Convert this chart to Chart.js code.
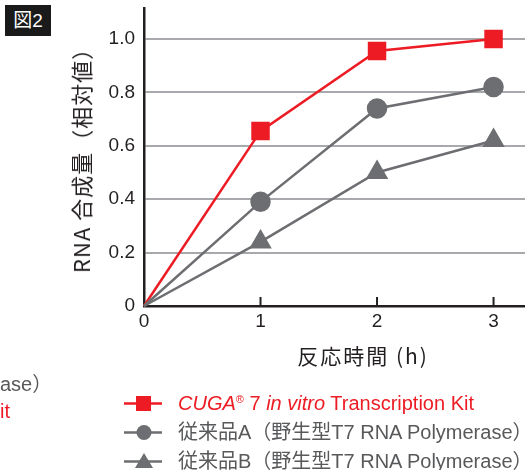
<!DOCTYPE html>
<html><head><meta charset="utf-8">
<script src="https://cdn.jsdelivr.net/npm/chart.js@4"></script>
<style>
html,body{margin:0;padding:0;background:#fff;overflow:hidden}
#wrap{position:relative;width:525px;height:470px;font-family:"Liberation Sans","Noto Sans CJK JP",sans-serif}
canvas{position:absolute;left:0;top:0}
.abs{position:absolute;white-space:nowrap}
#badge{left:5px;top:5px;width:46px;height:31px;background:#1a1a1a;color:#fff;font-size:19px;line-height:31px;text-align:center}
#ytitle{left:80px;top:155px;transform:translate(-50%,-50%) rotate(-90deg);font-size:22px;letter-spacing:1px;color:#231F20;font-family:"Noto Sans CJK JP","Liberation Sans",sans-serif}
#xtitle{left:363px;top:355px;transform:translate(-50%,-50%);font-size:21px;letter-spacing:2px;color:#231F20;font-family:"Noto Sans CJK JP","Liberation Sans",sans-serif}
.leg{left:124px;font-size:20px;height:24px;line-height:24px;transform:translateY(-50%)}
.leg svg{position:absolute;left:0;top:3px}
.leg span{position:absolute;left:54px;top:0}
.leg sup{font-size:11px;line-height:0;vertical-align:7px}
</style></head>
<body><div id="wrap">
<canvas id="c" width="525" height="470"></canvas>
<div id="badge" class="abs">図2</div>
<div id="ytitle" class="abs">RNA 合成量（相対値）</div>
<div id="xtitle" class="abs">反応時間 (h)</div>
<div class="abs" style="left:0;top:368px;font-size:20px;color:#58595B">ase）</div>
<div class="abs" style="left:0;top:400px;font-size:20px;color:#ED1C24">it</div>
<div id="legend"></div>
</div>
<script>
const hours = [0, 1, 2, 3];
const cugaValues = [0, 0.655, 0.955, 1.0];
const productAValues = [0, 0.39, 0.74, 0.82];
const productBValues = [0, 0.24, 0.50, 0.62];
const yTickValues = [0, 0.2, 0.4, 0.6, 0.8, 1.0];
const xTickValues = [0, 1, 2, 3];
const seriesLabels = [
  'CUGA® 7 in vitro Transcription Kit',
  '従来品A（野生型T7 RNA Polymerase）',
  '従来品B（野生型T7 RNA Polymerase）'
];

const RED = '#ED1C24', GRAY = '#6D6E71', AXIS = '#231F20', GRID = '#A7A9AC';

function pts(vals){ return hours.map((h,i)=>({x:h,y:vals[i]})); }
// no marker drawn at the origin point
function rad(r){ return c => (c.dataIndex === 0 ? 0 : r); }

const innerTicks = {
  id:'innerTicks',
  afterDraw(chart){
    const ctx = chart.ctx, xs = chart.scales.x, bottom = chart.chartArea.bottom;
    ctx.save(); ctx.strokeStyle = AXIS; ctx.lineWidth = 2;
    xTickValues.forEach(v=>{ if(v===0) return;
      const px = xs.getPixelForValue(v);
      ctx.beginPath(); ctx.moveTo(px,bottom); ctx.lineTo(px,bottom-9); ctx.stroke();
    });
    ctx.restore();
  }
};

function noPad(s){ s.paddingLeft = 0; s.paddingRight = 0; s.paddingTop = 0; s.paddingBottom = 0; }

new Chart(document.getElementById('c'), {
  type:'line',
  data:{datasets:[
    {label:seriesLabels[2], data:pts(productBValues), borderColor:GRAY, backgroundColor:GRAY, borderWidth:2.5, pointStyle:'triangle', pointRadius:rad(10.5), pointHoverRadius:rad(10.5), tension:0},
    {label:seriesLabels[1], data:pts(productAValues), borderColor:GRAY, backgroundColor:GRAY, borderWidth:2.5, pointStyle:'circle', pointRadius:rad(9), pointHoverRadius:rad(9), tension:0},
    {label:seriesLabels[0], data:pts(cugaValues), borderColor:RED, backgroundColor:RED, borderWidth:2.5, pointStyle:'rect', pointRadius:rad(11.3), pointHoverRadius:rad(11.3), tension:0}
  ]},
  options:{
    responsive:false, animation:false, clip:false,
    layout:{autoPadding:false, padding:{top:8,right:0,left:0,bottom:0}},
    plugins:{legend:{display:false}, tooltip:{enabled:false}},
    elements:{point:{borderWidth:0}},
    scales:{
      x:{type:'linear', min:0, max:3.27,
        afterBuildTicks:s=>{s.ticks = xTickValues.map(v=>({value:v}));},
        afterFit:s=>{s.height = 164; noPad(s);},
        grid:{display:false, drawTicks:false},
        border:{display:true, color:AXIS, width:2.5},
        ticks:{padding:4, color:AXIS, font:{family:'"Liberation Sans", sans-serif', size:19}, maxRotation:0, callback:v=>String(v)}
      },
      y:{type:'linear', min:0, max:1.116,
        afterBuildTicks:s=>{s.ticks = yTickValues.map(v=>({value:v}));},
        afterFit:s=>{s.width = 144; noPad(s);},
        grid:{drawTicks:false, lineWidth:2, color:c=> (c.tick && c.tick.value===0) ? 'rgba(0,0,0,0)' : GRID},
        border:{display:true, color:AXIS, width:2.5},
        ticks:{padding:9, color:AXIS, font:{family:'"Liberation Sans", sans-serif', size:19}, callback:v=> v===0 ? '0' : v.toFixed(1)}
      }
    }
  },
  plugins:[innerTicks]
});

// HTML legend
const legendItems = [
  {y:403, color:RED, marker:'<rect x="12" y="2" width="15" height="15" fill="'+RED+'"/>',
   html:'<i>CUGA</i><sup>®</sup> 7 <i>in vitro</i> Transcription Kit', text:RED},
  {y:432, color:GRAY, marker:'<circle cx="20" cy="9.5" r="7.5" fill="'+GRAY+'"/>', html:seriesLabels[1], text:'#58595B'},
  {y:461, color:GRAY, marker:'<polygon points="20,1 29,16 11,16" fill="'+GRAY+'"/>', html:seriesLabels[2], text:'#58595B'}
];
const leg = document.getElementById('legend');
legendItems.forEach(it=>{
  const d = document.createElement('div');
  d.className='abs leg'; d.style.top = it.y+'px'; d.style.color = it.text;
  d.innerHTML = '<svg width="40" height="19"><line x1="0" y1="9.5" x2="38" y2="9.5" stroke="'+it.color+'" stroke-width="2.5"/>'+it.marker+'</svg><span>'+it.html+'</span>';
  leg.appendChild(d);
});
</script>
</body></html>
